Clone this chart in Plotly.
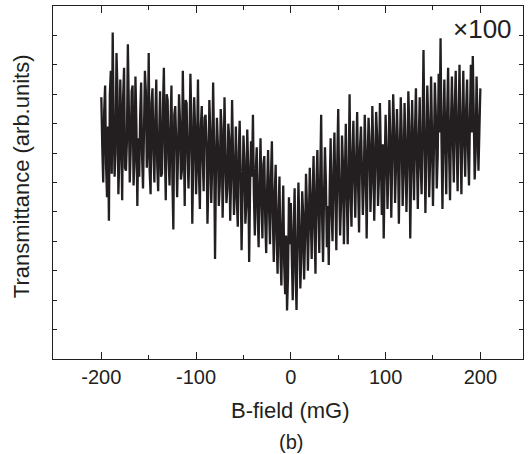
import plotly.graph_objects as go

# B-field sample positions (mG): one reading per 1 mG from -200 to 200
x_start = -200
x_step = 1

# Transmittance (arb. units, frame spans 0-12), readings at even B-field values
# (-200, -198, ..., 200), 20 mG per row
transmittance_even = [
    8.9, 6.0, 9.3, 5.5, 4.7, 9.8, 11.1, 6.2, 10.4, 5.6,
    9.5, 5.4, 9.9, 6.4, 10.7, 6.0, 9.1, 5.9, 9.6, 5.2,
    6.2, 9.4, 5.8, 9.8, 6.5, 10.4, 5.6, 9.2, 6.0, 9.5,
    5.7, 9.1, 6.3, 9.9, 5.4, 8.8, 5.9, 9.3, 4.4, 8.6,
    5.5, 9.0, 6.1, 9.8, 5.2, 8.7, 5.8, 9.7, 4.6, 8.9,
    5.6, 9.5, 5.1, 8.6, 5.7, 8.3, 4.6, 8.8, 5.3, 9.4,
    3.4, 8.2, 5.2, 8.5, 4.8, 8.9, 5.3, 8.0, 4.7, 8.8,
    4.9, 7.9, 4.5, 8.1, 3.7, 7.6, 4.6, 7.8, 3.3, 7.4,
    8.3, 4.2, 7.2, 3.8, 7.5, 4.1, 6.9, 3.6, 7.1, 3.9,
    7.4, 3.3, 6.6, 2.9, 6.2, 2.5, 5.9, 2.2, 1.65, 5.5,
    5.3, 2.0, 5.8, 1.67, 6.0, 2.4, 5.7, 2.7, 6.3, 3.0,
    6.5, 3.4, 6.9, 2.9, 7.1, 3.6, 8.3, 3.3, 7.2, 3.8,
    3.2, 7.5, 4.0, 7.7, 3.7, 8.5, 4.2, 7.6, 3.9, 8.0,
    3.9, 9.0, 4.5, 8.1, 4.8, 8.4, 4.3, 7.9, 4.9, 8.3,
    4.1, 8.2, 5.0, 8.6, 4.7, 8.4, 5.2, 8.7, 4.9, 4.1,
    8.3, 5.1, 8.8, 4.8, 9.0, 5.3, 8.5, 4.6, 8.9, 5.2,
    8.7, 5.0, 9.1, 4.1, 8.8, 5.4, 9.2, 5.1, 8.9, 5.6,
    10.5, 4.96, 9.3, 5.5, 9.6, 5.2, 9.4, 5.8, 9.7, 10.9,
    5.1, 9.5, 5.6, 9.9, 5.4, 9.6, 6.0, 9.8, 5.7, 10.0,
    5.6, 9.8, 6.2, 9.5, 5.9, 10.0, 10.3, 6.1, 9.6, 6.4,
    9.2,
]

# Readings at odd B-field values (-199, -197, ..., 199), 20 mG per row
transmittance_odd = [
    7.2, 8.4, 6.6, 7.9, 9.0, 6.3, 8.1, 7.0, 9.2, 6.8,
    7.8, 8.9, 6.5, 7.4, 8.6, 7.1, 9.3, 6.7, 8.0, 7.5,
    8.3, 6.9, 7.7, 9.1, 7.3, 6.4, 8.7, 7.0, 8.2, 6.6,
    7.6, 6.2, 8.5, 7.2, 9.0, 6.8, 7.9, 6.1, 8.3, 7.4,
    7.0, 8.1, 6.4, 7.6, 8.8, 6.9, 7.3, 8.2, 6.7, 7.8,
    7.1, 6.3, 7.9, 6.8, 8.2, 7.4, 6.0, 7.7, 6.6, 7.2,
    6.5, 7.3, 5.9, 7.8, 6.4, 7.0, 5.8, 7.5, 6.2, 6.9,
    6.1, 5.4, 7.0, 6.3, 5.6, 6.8, 5.2, 6.5, 5.9, 6.2,
    5.6, 6.4, 4.9, 6.0, 5.3, 6.6, 4.7, 5.8, 5.1, 6.2,
    4.8, 5.6, 4.1, 5.0, 3.6, 4.5, 3.2, 4.2, 2.8, 3.9,
    3.5, 4.4, 2.9, 4.0, 4.6, 3.4, 4.9, 4.1, 5.2, 4.6,
    4.9, 5.6, 4.4, 5.9, 5.1, 6.2, 4.8, 5.5, 6.0, 5.2,
    5.8, 5.0, 6.4, 5.5, 6.7, 5.9, 5.3, 6.6, 6.1, 5.7,
    6.3, 5.6, 7.0, 6.1, 6.8, 5.9, 7.2, 6.5, 6.0, 6.9,
    6.6, 7.4, 6.0, 7.1, 6.5, 7.6, 6.2, 6.9, 7.3, 6.4,
    7.0, 6.4, 7.5, 6.8, 7.8, 6.6, 7.2, 6.9, 7.6, 6.3,
    7.3, 6.7, 7.9, 6.5, 7.1, 7.7, 6.9, 7.4, 6.6, 7.8,
    7.5, 7.0, 8.1, 6.8, 7.6, 7.2, 8.3, 6.9, 7.7, 7.4,
    7.9, 7.2, 8.4, 7.0, 8.0, 7.5, 8.6, 7.3, 8.2, 7.6,
    8.0, 7.4, 8.5, 7.1, 8.2, 7.7, 8.4, 7.0, 8.1, 7.8,
]

# interleave the two read-off lists into one trace ordered by B-field
transmittance = []
for even_val, odd_val in zip(transmittance_even, transmittance_odd):
    transmittance.extend([even_val, odd_val])
transmittance.append(transmittance_even[-1])
b_field = [x_start + x_step * i for i in range(len(transmittance))]

x_tick_vals = [-200, -100, 0, 100, 200]
x_tick_text = ["-200", "-100", "0", "100", "200"]
y_tick_vals = [1, 2, 3, 4, 5, 6, 7, 8, 9, 10, 11]

ink = "#231f20"
font_family = "Liberation Sans, Arial, sans-serif"

fig = go.Figure()
fig.add_trace(go.Scatter(
    x=b_field, y=transmittance, mode="lines",
    line=dict(color=ink, width=2.3, simplify=False),
    showlegend=False, hoverinfo="skip",
))

fig.update_layout(
    width=528, height=454,
    margin=dict(l=53, r=5, t=6, b=95),
    paper_bgcolor="white", plot_bgcolor="white",
    font=dict(family=font_family, color=ink, size=20),
    xaxis=dict(
        range=[-251, 245], tickvals=x_tick_vals, ticktext=x_tick_text,
        ticks="inside", ticklen=7, tickwidth=1, tickcolor=ink,
        minor=dict(dtick=50, tick0=0, ticks="inside", ticklen=4, tickcolor=ink, showgrid=False),
        showline=True, linecolor=ink, linewidth=1, mirror="ticks",
        showgrid=False, zeroline=False,
        tickfont=dict(size=20, color=ink, family=font_family),
    ),
    yaxis=dict(
        range=[0, 12], tickvals=y_tick_vals, showticklabels=False,
        ticks="inside", ticklen=4, tickwidth=1, tickcolor=ink,
        showline=True, linecolor=ink, linewidth=1, mirror="ticks",
        showgrid=False, zeroline=False,
    ),
    annotations=[
        dict(text="B-field (mG)", x=0, xref="x", y=-0.1445, yref="paper",
             showarrow=False, xanchor="center", yanchor="middle",
             font=dict(size=22, color=ink, family=font_family)),
        dict(text="(b)", x=0, xref="x", y=-0.234, yref="paper",
             showarrow=False, xanchor="center", yanchor="middle",
             font=dict(size=20, color=ink, family=font_family)),
        dict(text="Transmittance (arb.units)", x=-0.068, xref="paper", y=0.518, yref="paper",
             textangle=-90, showarrow=False, xanchor="center", yanchor="middle",
             font=dict(size=22, color=ink, family=font_family)),
        dict(text="×100", x=0.913, xref="paper", y=0.936, yref="paper",
             showarrow=False, xanchor="center", yanchor="middle",
             font=dict(size=26, color=ink, family=font_family)),
    ],
)

fig.write_html(
    "out.html",
    config={"displayModeBar": False},
    post_script="document.body.style.margin='0';document.body.style.padding='0';",
)
